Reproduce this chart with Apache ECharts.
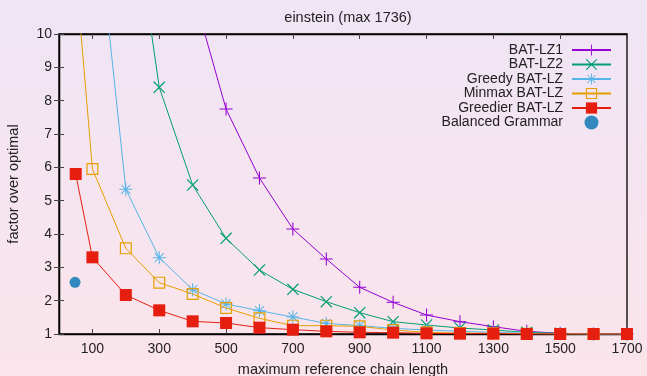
<!DOCTYPE html>
<html>
<head>
<meta charset="utf-8">
<script src="https://cdn.jsdelivr.net/npm/echarts@6/dist/echarts.min.js"></script>
<style>
  html, body { margin: 0; padding: 0; }
  #main {
    width: 647px; height: 376px;
    background: linear-gradient(to bottom, #efe5f5 0%, #fbe4ea 100%);
  }
</style>
</head>
<body>
<div id="main"></div>
<script>
// chain length limits (x)
var xs = [50, 100, 200, 300, 400, 500, 600, 700, 800, 900, 1000, 1100, 1200, 1300, 1400, 1500, 1600, 1700];
var xTicks = [100, 300, 500, 700, 900, 1100, 1300, 1500, 1700];

// factor over optimal, one per x
var batLz1   = [90, 50, 25, 16, 11.3, 7.75, 5.68, 4.15, 3.25, 2.4, 1.95, 1.57, 1.37, 1.22, 1.08, 1.02, 1.0, 1.0];
var batLz2   = [70, 35, 15.4, 8.4, 5.47, 3.87, 2.92, 2.34, 1.97, 1.64, 1.37, 1.27, 1.18, 1.12, 1.05, 1.02, 1.0, 1.0];
var greedy   = [30, 14.8, 5.34, 3.29, 2.33, 1.9, 1.7, 1.51, 1.32, 1.25, 1.17, 1.12, 1.08, 1.05, 1.02, 1.01, 1.0, 1.0];
var minmax   = [11.9, 5.95, 3.57, 2.54, 2.2, 1.78, 1.47, 1.25, 1.25, 1.23, 1.12, 1.05, 1.03, 1.02, 1.01, 1.0, 1.0, 1.0];
var greedier = [5.8, 3.3, 2.17, 1.71, 1.38, 1.33, 1.19, 1.13, 1.08, 1.05, 1.04, 1.02, 1.01, 1.01, 1.0, 1.0, 1.0, 1.0];
var balanced = [[48, 2.55]];

var names = ['BAT-LZ1', 'BAT-LZ2', 'Greedy BAT-LZ', 'Minmax BAT-LZ', 'Greedier BAT-LZ', 'Balanced Grammar'];
var colors = ['#9400d3', '#009e73', '#56b4e9', '#e69f00', '#e51e10', '#0072b2'];

var PLUS = 'path://M-10,-0.8H10V0.8H-10Z M-0.8,-10H0.8V10H-0.8Z';
var CROSS = 'path://M-6.5,-7.6L7.6,6.5L6.5,7.6L-7.6,-6.5Z M-6.5,7.6L-7.6,6.5L6.5,-7.6L7.6,-6.5Z';
var STAR = 'path://M-10,-0.8H10V0.8H-10Z M-0.8,-10H0.8V10H-0.8Z ' +
           'M-6.5,-7.6L7.6,6.5L6.5,7.6L-7.6,-6.5Z M-6.5,7.6L-7.6,6.5L6.5,-7.6L7.6,-6.5Z';
var BOX = 'path://M0,0H10V10H0Z M1,1V9H9V1Z';

function pairs(vals) {
  return xs.map(function (x, i) { return [x, vals[i]]; });
}

function lineSeries(idx, vals, symbol, size) {
  return {
    name: names[idx],
    type: 'line',
    data: pairs(vals),
    symbol: symbol,
    symbolSize: size,
    clip: true,
    z: 2 + idx,
    lineStyle: { width: 1, color: colors[idx] },
    itemStyle: { color: colors[idx], borderWidth: 0 }
  };
}

var myChart = echarts.init(document.getElementById('main'));
var font = 'Liberation Sans, Arial, sans-serif';

var option = {
  backgroundColor: 'transparent',
  animation: false,
  title: {
    text: 'einstein (max 1736)',
    left: 343,
    top: 5,
    textAlign: 'center',
    textStyle: { fontFamily: font, fontSize: 14.5, fontWeight: 'normal', color: '#222' }
  },
  grid: {
    left: 59, right: 20, top: 34, bottom: 42,
    outerBoundsMode: 'none',
    containLabel: false,
    show: true, borderColor: '#000', borderWidth: 1.3, backgroundColor: 'transparent'
  },
  legend: {
    orient: 'vertical',
    right: 30,
    top: 38,
    align: 'right',
    itemWidth: 39,
    itemHeight: 14,
    itemGap: 0.5,
    data: names,
    textStyle: { fontFamily: font, fontSize: 14, color: '#222', width: 150, align: 'right', padding: [0, 4, 0, 0] }
  },
  xAxis: [{
    type: 'value',
    min: 0, max: 1700, interval: 100,
    name: 'maximum reference chain length',
    nameLocation: 'middle',
    nameGap: 28,
    nameTextStyle: { fontFamily: font, fontSize: 14.5, color: '#222' },
    axisLine: { lineStyle: { color: '#000', width: 1.3 } },
    axisTick: { inside: true, length: 5, customValues: xTicks, lineStyle: { color: '#444' } },
    axisLabel: {
      customValues: xTicks, margin: 8, fontFamily: font, fontSize: 14, color: '#222',
      formatter: function (v) { return String(v); }
    },
    splitLine: { show: false }
  }, {
    type: 'value',
    position: 'top',
    min: 0, max: 1700, interval: 100,
    axisLine: { lineStyle: { color: '#000', width: 1.3 } },
    axisTick: { inside: true, length: 5, customValues: xTicks, lineStyle: { color: '#444' } },
    axisLabel: { show: false },
    splitLine: { show: false }
  }],
  yAxis: [{
    type: 'value',
    min: 1, max: 10, interval: 1,
    name: 'factor over optimal',
    nameLocation: 'middle',
    nameGap: 38,
    nameTextStyle: { fontFamily: font, fontSize: 14.5, color: '#222' },
    axisLine: { show: true, lineStyle: { color: '#000', width: 1.3 } },
    axisTick: { show: true, inside: true, length: 5, lineStyle: { color: '#444' } },
    axisLabel: { margin: 7, fontFamily: font, fontSize: 14, color: '#222' },
    splitLine: { show: false }
  }, {
    type: 'value',
    position: 'right',
    min: 1, max: 10, interval: 1,
    axisLine: { show: true, lineStyle: { color: '#000', width: 1.3 } },
    axisTick: { show: true, inside: true, length: 5, lineStyle: { color: '#444' } },
    axisLabel: { show: false },
    splitLine: { show: false }
  }],
  series: [
    lineSeries(0, batLz1, PLUS, 13),
    lineSeries(1, batLz2, CROSS, 12),
    lineSeries(2, greedy, STAR, 13),
    lineSeries(3, minmax, BOX, 12),
    lineSeries(4, greedier, 'rect', 12),
    {
      name: names[5],
      type: 'scatter',
      data: balanced,
      symbol: 'circle',
      symbolSize: 11,
      z: 8,
      itemStyle: { color: colors[5] }
    }
  ]
};
myChart.setOption(option);
</script>
</body>
</html>
